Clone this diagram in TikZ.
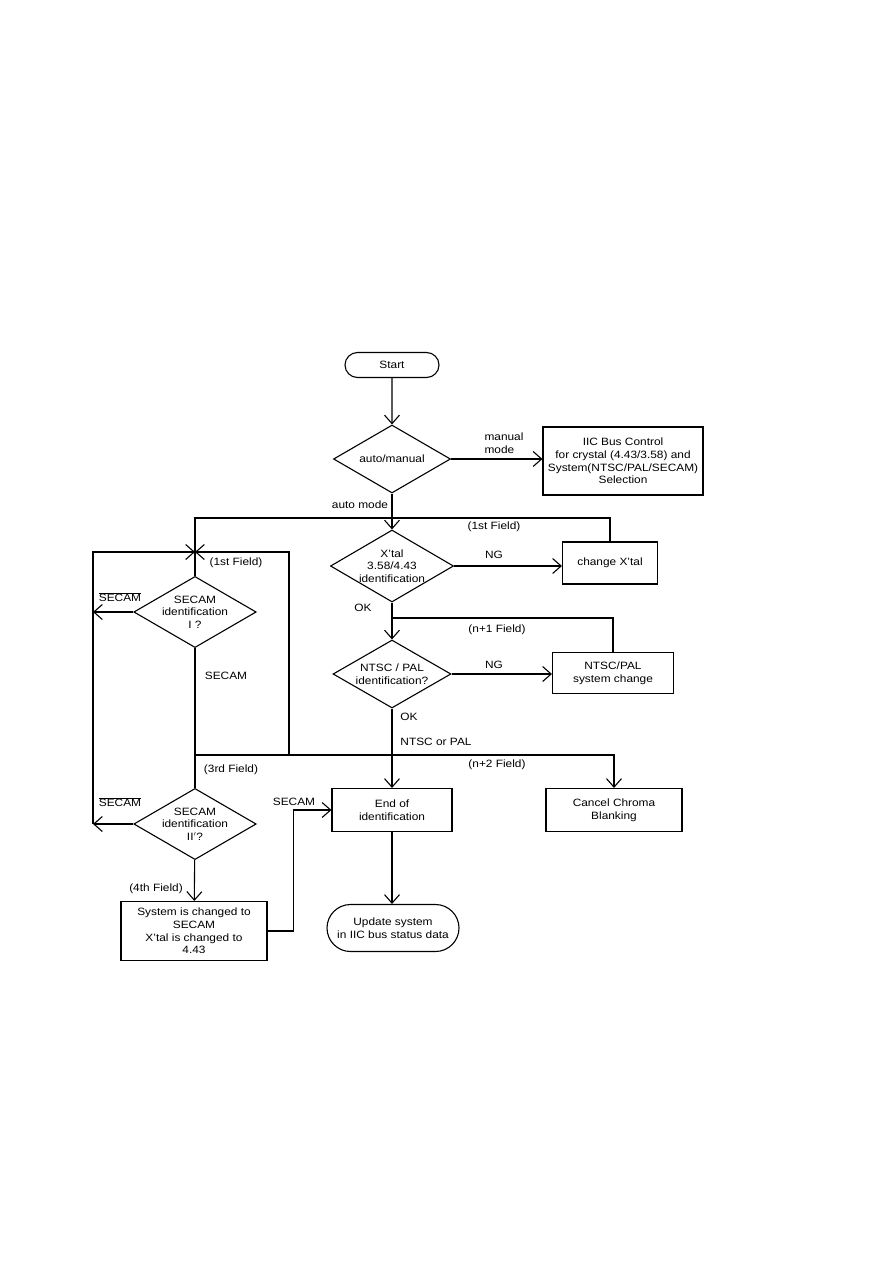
\documentclass[tikz,border=0pt]{standalone}
\usepackage{fontspec}
\setmainfont{Liberation Sans}[FakeStretch=1.12]
\usepackage{amsmath}
\usetikzlibrary{arrows.meta,shapes.geometric,shapes.misc}

\begin{document}
\begin{tikzpicture}[x=1pt, y=-1pt, line width=1.1pt,
    font=\fontsize{10.6}{12.7}\selectfont,
    decision/.style={draw, diamond, aspect=1.72, inner sep=0pt, align=center,
        minimum width=117pt, minimum height=68pt},
    process/.style={draw, rectangle, align=center, inner sep=2pt},
    terminal/.style={draw, rounded rectangle, align=center, inner sep=2pt},
    flow/.style={-{Straight Barb[length=8.5pt,width=15pt]}},
    lbl/.style={inner sep=1pt, align=left}]
    \useasboundingbox (0,0) rectangle (893,1263);

    % Main column
    \node[terminal, minimum width=98pt, minimum height=25pt] (start) at (392,365) {Start};
    \node[decision] (mode) at (392,459) {auto/manual};
    \node[process, minimum width=160pt, minimum height=68pt] (iic) at (623,461)
        {IIC Bus Control\\for crystal (4.43/3.58) and\\System(NTSC/PAL/SECAM)\\Selection};
    \node[decision, minimum width=119pt, minimum height=72pt] (xtal) at (392,566)
        {X'tal\\3.58/4.43\\identification};
    \node[process, minimum width=95pt, minimum height=42pt] (chgx) at (610,563) {change X'tal};
    \node[decision, minimum width=118pt] (ntsc) at (392,674) {NTSC / PAL\\identification?};
    \node[process, minimum width=121pt, minimum height=41pt] (ntscbox) at (613,673)
        {NTSC/PAL\\system change};
    \node[process, minimum width=120pt, minimum height=43pt] (endid) at (392,810)
        {End of\\identification};
    \node[terminal, minimum width=136pt, minimum height=47pt] (update) at (393,928)
        {Update system\\in IIC bus status data};
    \node[process, minimum width=136pt, minimum height=43pt] (cancel) at (614,810)
        {Cancel Chroma\\Blanking};

    % SECAM column
    \node[decision] (sec1) at (195,612) {SECAM\\identification\\I ?};
    \node[decision, minimum width=119pt] (sec2) at (195,824) {SECAM\\identification\\II$'$?};
    \node[process, minimum width=146pt, minimum height=59pt] (sysbox) at (194,931)
        {System is changed to\\SECAM\\X'tal is changed to\\4.43};

    % Junction points
    \coordinate (top1) at (195,518);
    \coordinate (j1) at (195,552);
    \coordinate (n1) at (392,618);
    \coordinate (j2) at (289,755);
    \coordinate (j3) at (195,755);
    \coordinate (l1) at (93,612);
    \coordinate (l2) at (93,824);

    % Main flow
    \draw[flow] (start) -- (mode);
    \draw[flow] (mode) -- (iic.west |- mode);
    \draw[flow] (mode) -- (xtal);
    \draw[flow] (xtal) -- (chgx.west |- xtal);
    \draw[flow] (xtal) -- (ntsc);
    \draw[flow] (ntsc) -- (ntscbox.west |- ntsc);
    \draw[flow] (ntsc) -- (endid);
    \draw[flow] (endid) -- (endid |- update.north);

    % Loops back
    \draw (chgx.north) |- (top1) -- (sec1.north);
    \draw (n1) -| (ntscbox.north);
    \draw[flow] (j3) -| (cancel.north);
    \draw[flow] (j2) |- (j1);
    \draw (sec1.south) -- (sec2.north);
    \draw[flow] (sec1.west) -- (l1);
    \draw[flow] (sec2.west) -- (l2);
    \draw[flow] (l2) |- (j1);
    \draw[flow] (sec2) -- (sysbox);
    \draw[flow] (sysbox.east) -- ++(26,0) |- (endid.west);

    % Labels
    \node[lbl] (lman) at (504,443) {manual\\mode};
    \node[lbl] (lauto) at (360,505) {auto mode};
    \node[lbl] (lf1a) at (494,527) {(1st Field)};
    \node[lbl] (lng1) at (494,555) {NG};
    \node[lbl] (lok1) at (363,608) {OK};
    \node[lbl] (lf2) at (497,630) {(n+1 Field)};
    \node[lbl] (lng2) at (494,665) {NG};
    \node[lbl] (lok2) at (409,717) {OK};
    \node[lbl] (lntsc) at (436,742) {NTSC or PAL};
    \node[lbl] (lf3) at (497,765) {(n+2 Field)};
    \node[lbl] (lf1b) at (236,563) {(1st Field)};
    \node[lbl] (lnsec1) at (120,597) {$\overline{\text{SECAM}}$};
    \node[lbl] (lsec1) at (226,676) {SECAM};
    \node[lbl] (lf3rd) at (231,770) {(3rd Field)};
    \node[lbl] (lnsec2) at (120,802) {$\overline{\text{SECAM}}$};
    \node[lbl] (lf4) at (156,889) {(4th Field)};
    \node[lbl] (lsec2) at (294,802) {SECAM};
\end{tikzpicture}
\end{document}
